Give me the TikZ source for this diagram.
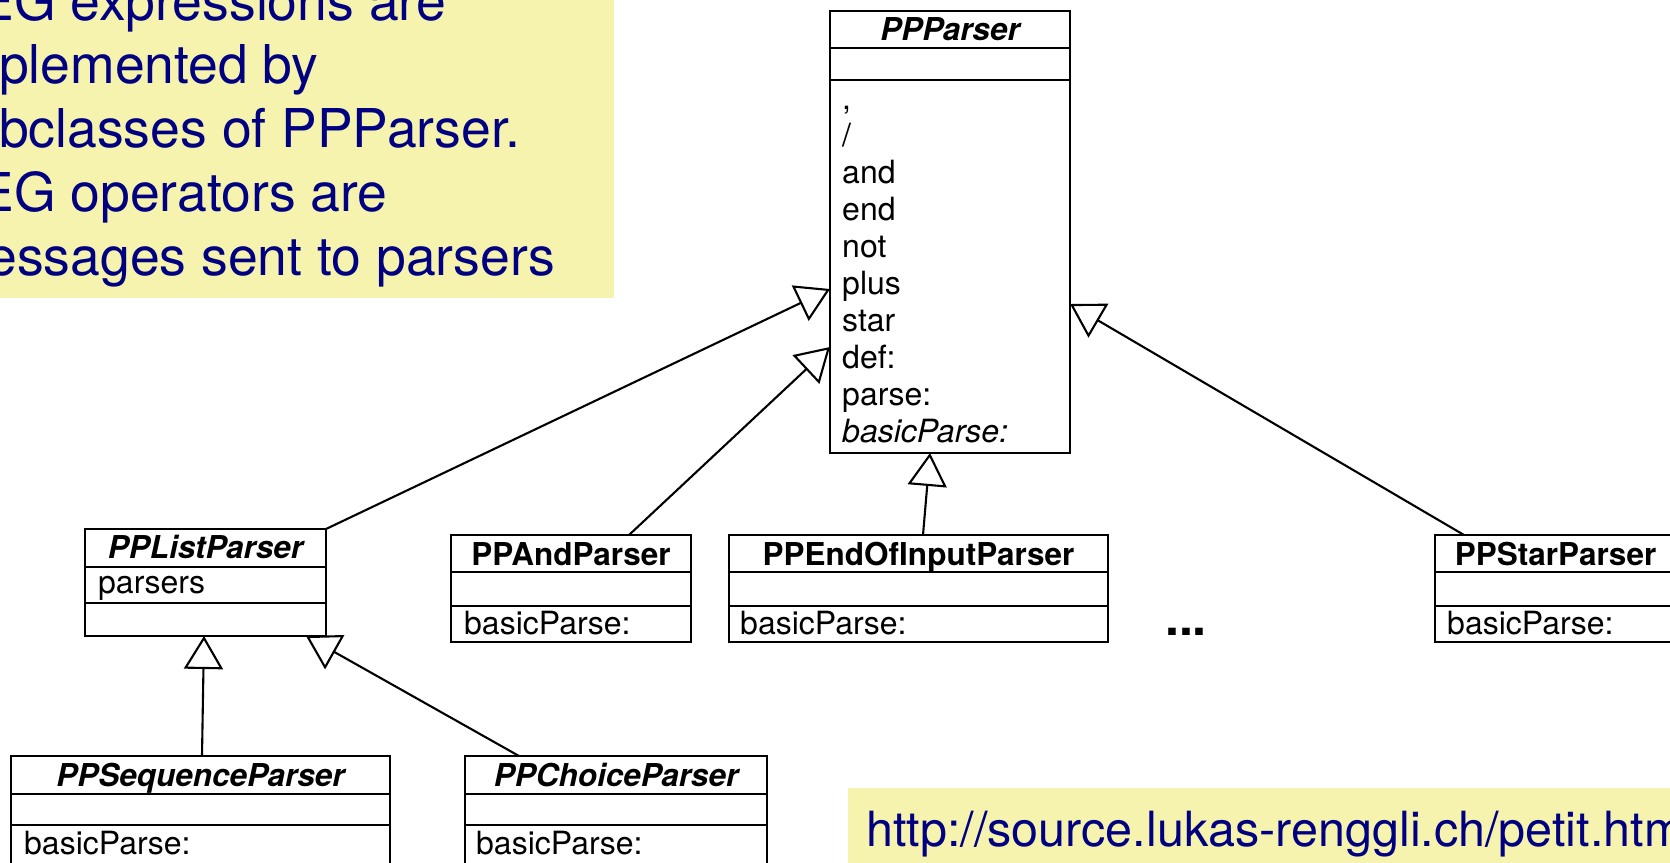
\documentclass[tikz,border=0pt]{standalone}
\usepackage{fontspec}
\setmainfont{TeX Gyre Heros}
\usetikzlibrary{arrows.meta}
\definecolor{noteyellow}{RGB}{246,243,175}
\definecolor{notetext}{RGB}{0,0,128}
\begin{document}
\begin{tikzpicture}[x=1pt,y=-1pt,
  cls/.style={draw=black, line width=2.4pt, fill=white, inner sep=0pt, outer sep=0pt, anchor=north west},
  sep/.style={draw=black, line width=2.4pt},
  ctitle/.style={inner sep=0pt, anchor=base, font=\fontsize{31.5}{36}\selectfont\bfseries\itshape},
  ntitle/.style={inner sep=0pt, anchor=base, font=\fontsize{31.5}{36}\selectfont\bfseries},
  member/.style={inner sep=0pt, anchor=base west, font=\fontsize{32}{37}\selectfont},
  inh/.style={line width=2.1pt, -{Triangle[open, length=33pt, width=39pt, line width=2.1pt]}},
  note/.style={fill=noteyellow, draw=none, inner sep=0pt, outer sep=0pt, anchor=north west},
  notetxt/.style={inner sep=0pt, anchor=base west, text=notetext, font=\fontsize{53.5}{64}\selectfont},
  urltxt/.style={inner sep=0pt, anchor=base west, text=notetext, font=\fontsize{48.5}{56}\selectfont},
]
\useasboundingbox (0,0) rectangle (1670,862);
\clip (0,0) rectangle (1670,862);

% ---- yellow note, top left
\node[note, minimum width=614pt, minimum height=298pt] (note1) at (0,0) {};
\node[notetxt] (n1a) at (-21.8,20) {EG expressions are};
\node[notetxt] (n1b) at (-1.1,83) {plemented by};
\node[notetxt] (n1c) at (-1.1,147) {bclasses of PPParser.};
\node[notetxt] (n1d) at (-21.8,211) {EG operators are};
\node[notetxt] (n1e) at (-12.9,275) {essages sent to parsers};

% ---- yellow note, bottom right
\node[note, minimum width=830pt, minimum height=80pt] (note2) at (848,788) {};
\node[urltxt] (url) at (866,846) {http://source.lukas-renggli.ch/petit.htm};

% ---- PPParser
\node[cls, minimum width=240pt, minimum height=442pt] (ppp) at (830,11) {};
\draw[sep] ([yshift=-37pt]ppp.north west) -- ([yshift=-37pt]ppp.north east);
\draw[sep] ([yshift=-69pt]ppp.north west) -- ([yshift=-69pt]ppp.north east);
\node[ctitle] (pppt) at (950,40) {PPParser};
\node[member] (m1) at (842,109) {,};
\node[member] (m2) at (842,146.1) {/};
\node[member] (m3) at (842,183.2) {and};
\node[member] (m4) at (842,220.3) {end};
\node[member] (m5) at (842,257.4) {not};
\node[member] (m6) at (842,294.5) {plus};
\node[member] (m7) at (842,331.6) {star};
\node[member] (m8) at (842,368.7) {def:};
\node[member] (m9) at (842,405.8) {parse:};
\node[member] (m10) at (842,442.9) {\itshape basicParse:};

% ---- PPListParser
\node[cls, minimum width=241pt, minimum height=107pt] (lst) at (85,529) {};
\draw[sep] ([yshift=-38pt]lst.north west) -- ([yshift=-38pt]lst.north east);
\draw[sep] ([yshift=-74pt]lst.north west) -- ([yshift=-74pt]lst.north east);
\node[ctitle] (lstt) at (205.5,558) {PPListParser};
\node[member] (lstm) at (98,593) {parsers};

% ---- PPAndParser
\node[cls, minimum width=240pt, minimum height=107pt] (and) at (451,535) {};
\draw[sep] ([yshift=-37pt]and.north west) -- ([yshift=-37pt]and.north east);
\draw[sep] ([yshift=-71pt]and.north west) -- ([yshift=-71pt]and.north east);
\node[ntitle] (andt) at (571,565) {PPAndParser};
\node[member] (andm) at (464,634) {basicParse:};

% ---- PPEndOfInputParser
\node[cls, minimum width=379pt, minimum height=107pt] (eoi) at (729,535) {};
\draw[sep] ([yshift=-37pt]eoi.north west) -- ([yshift=-37pt]eoi.north east);
\draw[sep] ([yshift=-71pt]eoi.north west) -- ([yshift=-71pt]eoi.north east);
\node[ntitle] (eoit) at (918.5,565) {PPEndOfInputParser};
\node[member] (eoim) at (740,634) {basicParse:};

% ---- PPStarParser
\node[cls, minimum width=241pt, minimum height=107pt] (star) at (1435,535) {};
\draw[sep] ([yshift=-37pt]star.north west) -- ([yshift=-37pt]star.north east);
\draw[sep] ([yshift=-71pt]star.north west) -- ([yshift=-71pt]star.north east);
\node[ntitle] (start) at (1555.5,565) {PPStarParser};
\node[member] (starm) at (1447,634) {basicParse:};

% ---- ellipsis
\node[inner sep=0pt, anchor=base, font=\fontsize{50}{50}\selectfont\bfseries] (dots) at (1186,635) {...};

% ---- PPSequenceParser
\node[cls, minimum width=379pt, minimum height=150pt] (seq) at (11,756) {};
\draw[sep] ([yshift=-38pt]seq.north west) -- ([yshift=-38pt]seq.north east);
\draw[sep] ([yshift=-69pt]seq.north west) -- ([yshift=-69pt]seq.north east);
\node[ctitle] (seqt) at (200.5,786) {PPSequenceParser};
\node[member] (seqm) at (24,854) {basicParse:};

% ---- PPChoiceParser
\node[cls, minimum width=302pt, minimum height=150pt] (cho) at (465,756) {};
\draw[sep] ([yshift=-38pt]cho.north west) -- ([yshift=-38pt]cho.north east);
\draw[sep] ([yshift=-69pt]cho.north west) -- ([yshift=-69pt]cho.north east);
\node[ctitle] (chot) at (616,786) {PPChoiceParser};
\node[member] (chom) at (476,854) {basicParse:};

% ---- inheritance connectors
\draw[inh] (lst.north east) -- ([yshift=-278pt]ppp.north west);
\draw[inh] ([xshift=178pt]and.north west) -- ([yshift=-336pt]ppp.north west);
\draw[inh] ([xshift=194pt]eoi.north west) -- ([xshift=100pt]ppp.south west);
\draw[inh] ([xshift=29pt]star.north west) -- ([yshift=-293pt]ppp.north east);
\draw[inh] ([xshift=191pt]seq.north west) -- ([xshift=119pt]lst.south west);
\draw[inh] ([xshift=54pt]cho.north west) -- ([xshift=221pt]lst.south west);
\end{tikzpicture}
\end{document}
